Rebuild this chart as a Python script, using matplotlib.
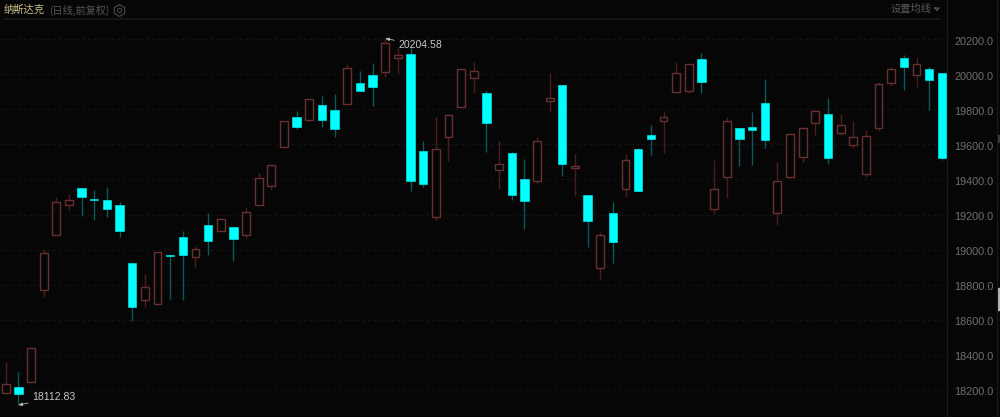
import matplotlib
matplotlib.use("Agg")
import matplotlib.pyplot as plt
from matplotlib.lines import Line2D
from matplotlib.patches import Rectangle
from matplotlib.transforms import ScaledTranslation

plt.rcParams['font.family'] = ['Noto Sans CJK SC', 'DejaVu Sans']

opens = [18180,18215,18243,18770,19082,19253,19353,19289,19285,19254,18925,18713,18692,18969,19070,18960,19139,19104,19131,19083,
         19253,19363,19585,19755,19739,19823,19796,19831,19949,19994,20015,20093,20116,19564,19188,19641,19815,19977,19895,19456,
         19551,19401,19393,19849,19939,19464,19310,18897,19207,19344,19572,19655,19732,19901,19906,20089,19230,19413,19695,19698,
         19835,19211,19416,19530,19724,19775,19663,19598,19431,19694,19952,20091,19994,20030,20006]
closes = [18233,18175,18437,18982,19270,19285,19298,19283,19230,19104,18674,18788,18985,18964,18969,19002,19051,19175,19061,19216,
          19407,19481,19735,19701,19861,19738,19688,20038,19903,19929,20177,20112,19393,19373,19574,19766,20032,20021,19724,19487,
          19310,19279,19620,19867,19488,19475,19162,19085,19042,19509,19336,19631,19755,20009,20057,19954,19344,19735,19631,19682,
          19625,19393,19658,19692,19792,19523,19713,19641,19650,19946,20029,20043,20057,19966,19523]
highs = [18361,18304,18446,19002,19298,19317,19353,19340,19355,19272,18925,18861,18988,18969,19108,19021,19207,19182,19131,19245,
         19435,19484,19735,19791,19861,19876,19888,20057,20017,20063,20204.58,20148,20157,19621,19758,19774,20032,20068,19905,19621,
         19559,19519,19641,20009,19939,19545,19310,19100,19272,19545,19581,19711,19791,20068,20057,20120,19511,19758,19695,19787,
         19971,19501,19667,19695,19796,19863,19774,19734,19682,19954,20043,20110,20100,20043,20009]
lows = [18180,18112.83,18243,18728,19082,19226,19193,19169,19188,19074,18595,18671,18690,18720,18713,18899,18968,19104,18933,19065,
        19253,19340,19585,19690,19735,19698,19641,19831,19903,19819,19986,20006,19336,19359,19169,19504,19815,19892,19555,19344,
        19283,19116,19378,19785,19420,19308,19017,18831,18925,19302,19336,19541,19549,19901,19892,19895,19203,19296,19479,19483,
        19578,19140,19410,19498,19654,19488,19654,19581,19413,19677,19935,19910,19929,19796,19511]
price_ticks = [18200,18400,18600,18800,19000,19200,19400,19600,19800,20000,20200]
tick_labels = ["18200.0","18400.0","18600.0","18800.0","19000.0","19200.0","19400.0","19600.0","19800.0","20000.0","20200.0"]
title_main = "纳斯达克"
title_sub = "(日线,前复权)"
ma_label = "设置均线"
max_label = "20204.58"
min_label = "18112.83"

W, H = 1000, 417
BG = "#060606"
UP_EDGE, UP_WICK = "#6a3030", "#4e1c1c"
DN_BODY, DN_WICK = "#00ffff", "#0a5a5c"

fig = plt.figure(figsize=(W / 100, H / 100), dpi=100, facecolor=BG)
ax = fig.add_axes([0, 0, 947 / W, 1], facecolor=BG)

xs = list(range(len(opens)))
for i in xs:
    o, c, hi, lo = opens[i], closes[i], highs[i], lows[i]
    up = c >= o
    ax.vlines(i, lo, hi, color=UP_WICK if up else DN_WICK, lw=1.0, zorder=2)
    if up:
        ax.bar(i, c - o, bottom=o, width=0.62, facecolor=BG, edgecolor=UP_EDGE, lw=1.0, zorder=3)
    else:
        ax.bar(i, o - c, bottom=c, width=0.66, facecolor=DN_BODY, edgecolor=DN_BODY, lw=0.4, zorder=3)

ax.set_xlim(-0.45, 74.41)
ax.set_ylim(18045, 20424)
ax.set_xticks([])
ax.yaxis.tick_right()
ax.set_yticks(price_ticks)
ax.set_yticklabels(tick_labels, color="#6e6e6e", fontsize=7.8, family="Liberation Sans")
ax.tick_params(axis="y", length=0, pad=5.5)
shift = ScaledTranslation(0, -1.5 / 72 * 0.72, fig.dpi_scale_trans)
for lab in ax.get_yticklabels():
    lab.set_transform(lab.get_transform() + shift)
ax.grid(axis="y", color="#151515", lw=0.7, ls=(0, (3, 3)), zorder=1)
for s in ["top", "left", "bottom"]:
    ax.spines[s].set_visible(False)
ax.spines["right"].set_color("#191919")
ax.spines["right"].set_linewidth(0.8)

ann = dict(color="#c8c8c8", fontsize=7.6, family="Liberation Sans", va="center", textcoords="offset points", zorder=5,
           arrowprops=dict(arrowstyle="-|>,head_length=0.3,head_width=0.12", color="#bdbdbd", lw=0.6,
                           shrinkA=1, shrinkB=0))
ax.annotate(max_label, xy=(30, highs[30]), xytext=(9.5, -5.0), **ann)
ax.annotate(min_label, xy=(1, lows[1]), xytext=(10, 5.5), **ann)

def px(x, y):
    return x / W, 1 - y / H

fig.text(*px(4, 10), title_main, color="#c8bf8a", fontsize=7.4, va="center")
fig.text(*px(49, 10), title_sub, color="#555555", fontsize=7.3, va="center")
fig.text(*px(891, 9), ma_label, color="#585858", fontsize=7.4, va="center")
fig.add_artist(Line2D([px(935, 0)[0], px(939, 0)[0], px(937, 0)[0], px(935, 0)[0]],
                      [px(0, 8)[1], px(0, 8)[1], px(0, 10.5)[1], px(0, 8)[1]],
                      color="#585858", lw=0.8))
fig.add_artist(Line2D([px(119, 0)[0]], [px(0, 10)[1]], marker="h", ms=8.5, mfc="none", mec="#444444", mew=0.9))
fig.add_artist(Line2D([px(119, 0)[0]], [px(0, 10)[1]], marker="o", ms=3, mfc="none", mec="#444444", mew=0.8))
fig.add_artist(Line2D([px(4, 0)[0], px(940, 0)[0]], [px(0, 19)[1]] * 2, color="#191919", lw=1.2))
fig.add_artist(Line2D([px(997, 0)[0]] * 2, [0, 1], color="#191919", lw=0.8))
fig.add_artist(Rectangle(px(998, 142), 1 / W, 7 / H, transform=fig.transFigure, color="#3a3a3a"))
fig.add_artist(Rectangle(px(998, 310), 2 / W, 22 / H, transform=fig.transFigure, color="#b4b4b4"))

fig.savefig("out.png", dpi=100, facecolor=BG)
